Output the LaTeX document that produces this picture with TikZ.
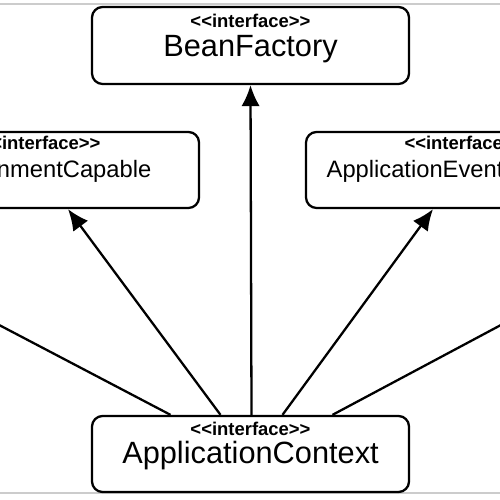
\documentclass[tikz,border=0pt]{standalone}
\usepackage{fontspec}
\setmainfont{Liberation Sans}
\usepackage{tikz}
\usetikzlibrary{arrows.meta}

\newcommand{\ifacetag}{{\bfseries\fontsize{10.5}{12}\selectfont {<}{<}interface{>}{>}}}

\begin{document}
\begin{tikzpicture}[
  ibox/.style={draw=black, line width=1.3pt, rounded corners=6pt, inner sep=0pt,
    minimum width=6.34cm, align=center},
  bigbox/.style={ibox, font=\fontsize{17.5}{16.5}\selectfont},
  sidebox/.style={ibox, font=\fontsize{13.5}{16}\selectfont},
  ext/.style={color=black, line width=1.3pt, -{Latex[length=12pt,width=10.5pt]}},
  rim/.style={color=black!20, line width=1pt}]
\useasboundingbox (0,0) rectangle (10,10);
\clip (0,0) rectangle (10,10);

\draw[rim] (0,9.92) -- (10,9.92);
\draw[rim] (0,0.14) -- (10,0.14);

\node[bigbox, text height=1.0cm, text depth=0.54cm] (bf) at (5.01,9.09) {\ifacetag\\BeanFactory};
\node[sidebox, text height=0.92cm, text depth=0.6cm] (env) at (0.81,6.6) {\ifacetag\\EnvironmentCapable};
\node[sidebox, text height=0.92cm, text depth=0.6cm] (pub) at (9.29,6.6) {\ifacetag\\ApplicationEventPublisher};
\node[bigbox, text height=0.96cm, text depth=0.56cm] (ctx) at (5.01,0.92) {\ifacetag\\ApplicationContext};

% off the picture
\coordinate (offleft) at (-1.2,4.12);
\coordinate (offright) at (11.2,4.13);

\draw[ext] ([xshift=0.02cm]ctx.north) -- (bf.south);
\draw[ext] ([xshift=-0.6cm]ctx.north) -- ([xshift=0.55cm]env.south);
\draw[ext] ([xshift=0.64cm]ctx.north) -- ([xshift=-0.63cm]pub.south);
\draw[color=black, line width=1.3pt] ([xshift=-1.6cm]ctx.north) -- (offleft);
\draw[color=black, line width=1.3pt] ([xshift=1.64cm]ctx.north) -- (offright);
\end{tikzpicture}
\end{document}
